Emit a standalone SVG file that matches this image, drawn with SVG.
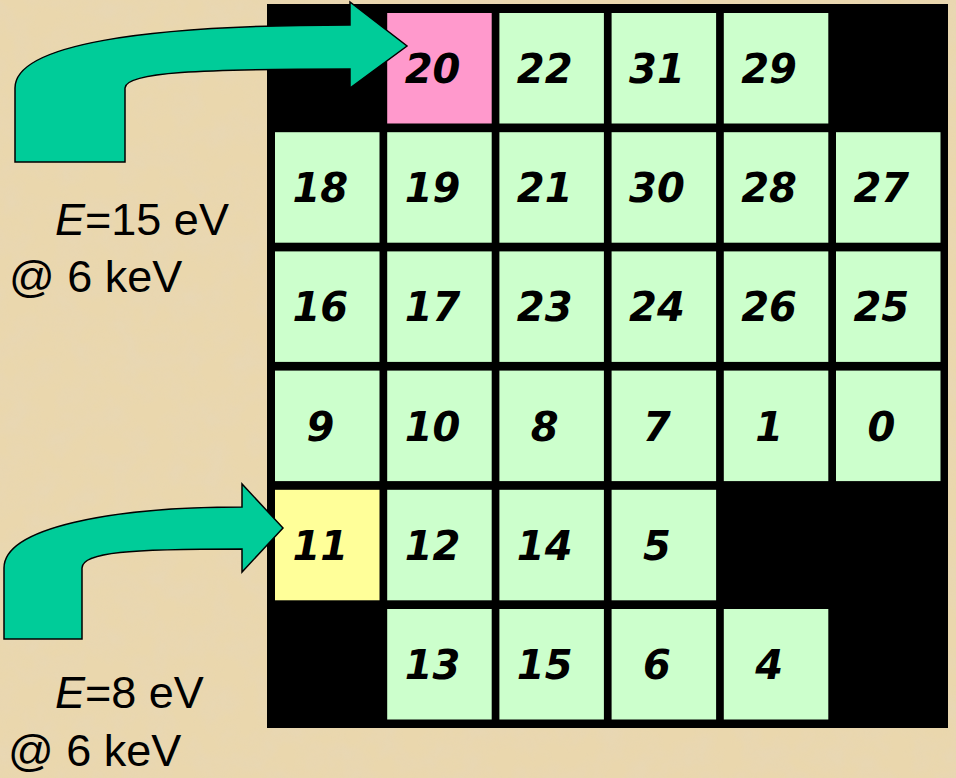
<svg xmlns="http://www.w3.org/2000/svg" width="956" height="778" viewBox="0 0 956 778">
<defs>
<filter id="paper" x="0" y="0" width="100%" height="100%">
<feTurbulence type="fractalNoise" baseFrequency="0.035" numOctaves="4" seed="7" result="n"/>
<feColorMatrix in="n" type="matrix" values="0 0 0 0 0.80  0 0 0 0 0.68  0 0 0 0 0.48  0 0 0 -1.6 1.05" result="c"/>
<feComposite in="c" in2="SourceGraphic" operator="in"/>
</filter>
</defs>
<style>
.cell{stroke:none}
.g{fill:#CCFFCC}
.p{fill:#FF99CC}
.y{fill:#FFFF99}
.num{font-family:"DejaVu Sans",Verdana,sans-serif;font-weight:bold;font-style:italic;font-size:40px;fill:#000;text-anchor:middle}
.lbl{font-family:"Liberation Sans",Arial,sans-serif;font-size:45px;fill:#000}
.arrow{fill:#00CC99;stroke:#000;stroke-width:1.5;stroke-linejoin:miter}
</style>
<rect x="0" y="0" width="956" height="778" fill="#EAD7AD"/>
<rect x="0" y="0" width="956" height="778" fill="#EAD7AD" filter="url(#paper)" opacity="0.7"/>
<rect id="grid-bg" x="267" y="4" width="681" height="724" fill="#000"/>

<g id="c20"><rect class="cell p" x="387.2" y="13" width="104.5" height="110.5"/><text class="num" x="432.5" y="83">20</text></g>
<g id="c22"><rect class="cell g" x="499.4" y="13" width="104.5" height="110.5"/><text class="num" x="544.7" y="83">22</text></g>
<g id="c31"><rect class="cell g" x="611.6" y="13" width="104.5" height="110.5"/><text class="num" x="656.9" y="83">31</text></g>
<g id="c29"><rect class="cell g" x="723.8" y="13" width="104.5" height="110.5"/><text class="num" x="769.1" y="83">29</text></g>

<g id="c18"><rect class="cell g" x="275" y="132.2" width="104.5" height="110.5"/><text class="num" x="320.3" y="202.2">18</text></g>
<g id="c19"><rect class="cell g" x="387.2" y="132.2" width="104.5" height="110.5"/><text class="num" x="432.5" y="202.2">19</text></g>
<g id="c21"><rect class="cell g" x="499.4" y="132.2" width="104.5" height="110.5"/><text class="num" x="544.7" y="202.2">21</text></g>
<g id="c30"><rect class="cell g" x="611.6" y="132.2" width="104.5" height="110.5"/><text class="num" x="656.9" y="202.2">30</text></g>
<g id="c28"><rect class="cell g" x="723.8" y="132.2" width="104.5" height="110.5"/><text class="num" x="769.1" y="202.2">28</text></g>
<g id="c27"><rect class="cell g" x="836" y="132.2" width="104.5" height="110.5"/><text class="num" x="881.3" y="202.2">27</text></g>

<g id="c16"><rect class="cell g" x="275" y="251.4" width="104.5" height="110.5"/><text class="num" x="320.3" y="321.4">16</text></g>
<g id="c17"><rect class="cell g" x="387.2" y="251.4" width="104.5" height="110.5"/><text class="num" x="432.5" y="321.4">17</text></g>
<g id="c23"><rect class="cell g" x="499.4" y="251.4" width="104.5" height="110.5"/><text class="num" x="544.7" y="321.4">23</text></g>
<g id="c24"><rect class="cell g" x="611.6" y="251.4" width="104.5" height="110.5"/><text class="num" x="656.9" y="321.4">24</text></g>
<g id="c26"><rect class="cell g" x="723.8" y="251.4" width="104.5" height="110.5"/><text class="num" x="769.1" y="321.4">26</text></g>
<g id="c25"><rect class="cell g" x="836" y="251.4" width="104.5" height="110.5"/><text class="num" x="881.3" y="321.4">25</text></g>

<g id="c9"><rect class="cell g" x="275" y="370.6" width="104.5" height="110.5"/><text class="num" x="320.3" y="440.6">9</text></g>
<g id="c10"><rect class="cell g" x="387.2" y="370.6" width="104.5" height="110.5"/><text class="num" x="432.5" y="440.6">10</text></g>
<g id="c8"><rect class="cell g" x="499.4" y="370.6" width="104.5" height="110.5"/><text class="num" x="544.7" y="440.6">8</text></g>
<g id="c7"><rect class="cell g" x="611.6" y="370.6" width="104.5" height="110.5"/><text class="num" x="656.9" y="440.6">7</text></g>
<g id="c1"><rect class="cell g" x="723.8" y="370.6" width="104.5" height="110.5"/><text class="num" x="769.1" y="440.6">1</text></g>
<g id="c0"><rect class="cell g" x="836" y="370.6" width="104.5" height="110.5"/><text class="num" x="881.3" y="440.6">0</text></g>

<g id="c11"><rect class="cell y" x="275" y="489.8" width="104.5" height="110.5"/><text class="num" x="320.3" y="559.8">11</text></g>
<g id="c12"><rect class="cell g" x="387.2" y="489.8" width="104.5" height="110.5"/><text class="num" x="432.5" y="559.8">12</text></g>
<g id="c14"><rect class="cell g" x="499.4" y="489.8" width="104.5" height="110.5"/><text class="num" x="544.7" y="559.8">14</text></g>
<g id="c5"><rect class="cell g" x="611.6" y="489.8" width="104.5" height="110.5"/><text class="num" x="656.9" y="559.8">5</text></g>

<g id="c13"><rect class="cell g" x="387.2" y="609" width="104.5" height="110.5"/><text class="num" x="432.5" y="679">13</text></g>
<g id="c15"><rect class="cell g" x="499.4" y="609" width="104.5" height="110.5"/><text class="num" x="544.7" y="679">15</text></g>
<g id="c6"><rect class="cell g" x="611.6" y="609" width="104.5" height="110.5"/><text class="num" x="656.9" y="679">6</text></g>
<g id="c4"><rect class="cell g" x="723.8" y="609" width="104.5" height="110.5"/><text class="num" x="769.1" y="679">4</text></g>

<g id="connectors">
<path class="arrow" d="M15,162 L15,88 C15,45 140,25 350,25 L350,2 L407,46 L350,88 L350,69 C200,69 125,72 125,88 L125,162 Z"/>
<path class="arrow" d="M4,639 L4,568 C4,528 110,507 242,507 L242,484 L283,528 L242,572 L242,549 C130,549 82,552 82,568 L82,639 Z"/>
</g>

<g id="label-top">
<text class="lbl" x="55" y="235"><tspan font-style="italic">E</tspan>=15 eV</text>
<text class="lbl" x="9" y="292">@ 6 keV</text>
</g>
<g id="label-bottom">
<text class="lbl" x="55" y="708"><tspan font-style="italic">E</tspan>=8 eV</text>
<text class="lbl" x="8" y="766">@ 6 keV</text>
</g>
</svg>
